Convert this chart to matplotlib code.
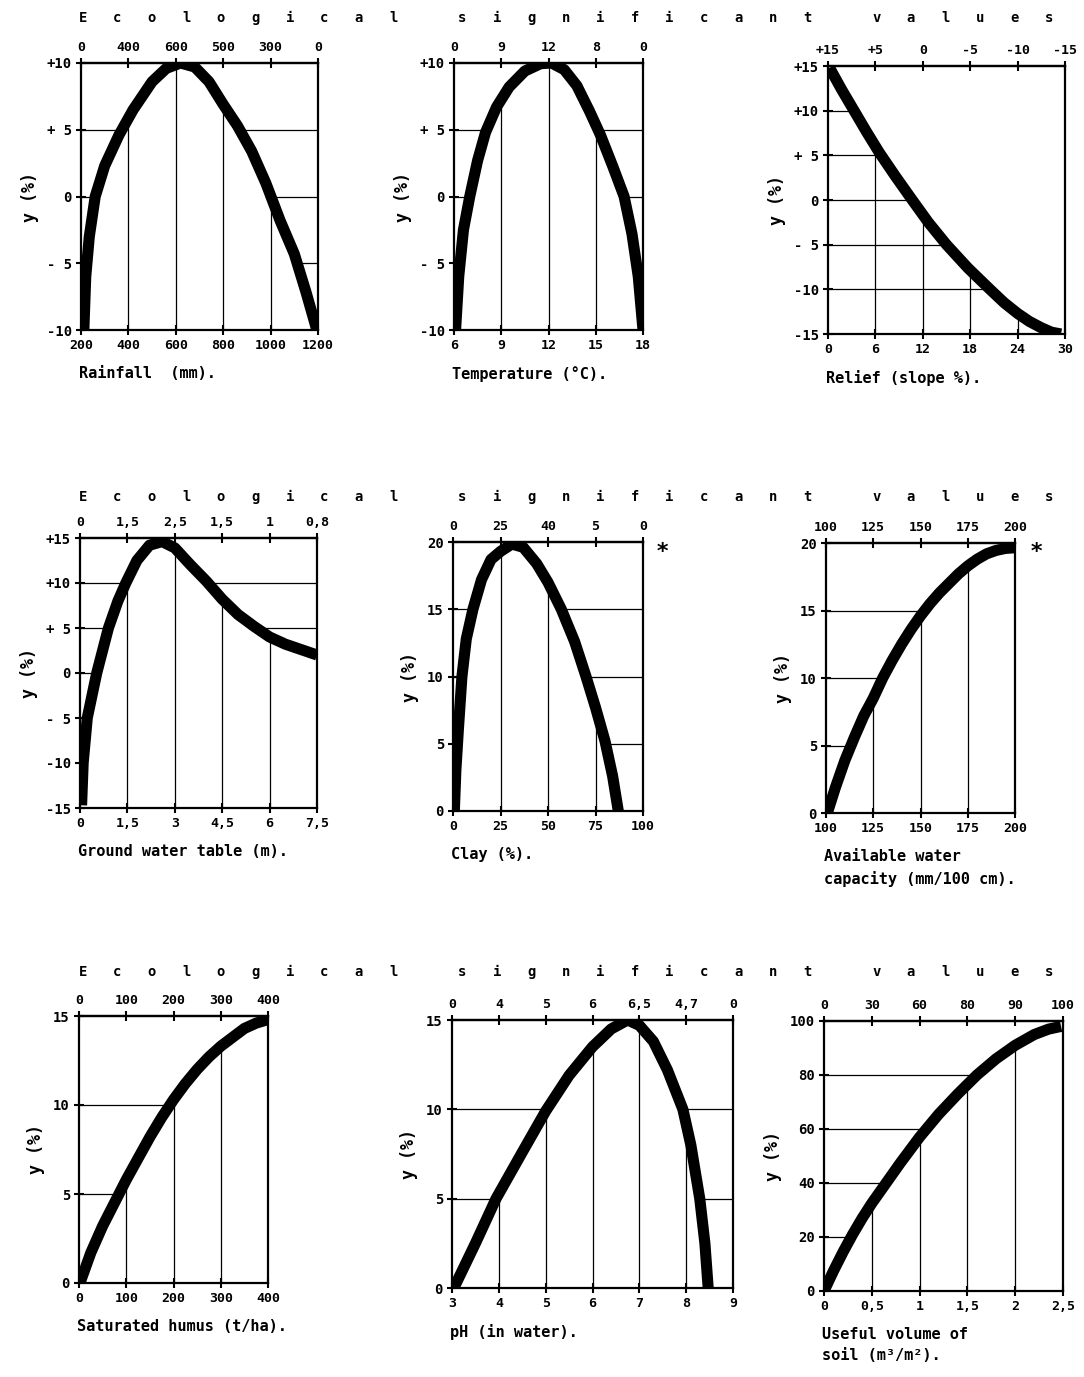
import numpy as np
import matplotlib.pyplot as plt
from matplotlib.transforms import offset_copy

# curves (x, y in %)
rain_x = [212, 220, 235, 260, 300, 360, 420, 500, 560, 620, 680, 740, 800, 860, 920, 980, 1040, 1100, 1150, 1195]
rain_y = [-10, -6, -3, 0, 2.3, 4.6, 6.5, 8.6, 9.6, 10, 9.7, 8.6, 6.9, 5.3, 3.4, 1.0, -1.8, -4.3, -7.2, -10]

temp_x = [6.1, 6.3, 6.6, 7.0, 7.5, 8.0, 8.7, 9.5, 10.5, 11.5, 12.2, 13.0, 13.8, 14.6, 15.3, 16.1, 16.8, 17.3, 17.7, 18.0]
temp_y = [-10, -6, -2.5, 0, 2.7, 4.8, 6.7, 8.2, 9.4, 9.95, 10, 9.5, 8.3, 6.4, 4.6, 2.2, 0, -2.8, -6, -10]

relief_x = [0.2, 1.7, 3.3, 4.9, 6.5, 8.5, 10.5, 12.7, 15, 17.7, 20.5, 22.3, 24, 25.5, 27, 28.3, 29.5]
relief_y = [14.8, 12.4, 10, 7.6, 5.3, 2.7, 0.2, -2.5, -5, -7.6, -10, -11.5, -12.7, -13.6, -14.3, -14.8, -15]

gwt_x = [0.05, 0.1, 0.23, 0.53, 0.9, 1.2, 1.45, 1.8, 2.2, 2.6, 3.0, 3.5, 4.0, 4.5, 5.0, 5.5, 6.0, 6.5, 7.0, 7.5]
gwt_y = [-14.7, -10, -5, 0, 5, 8, 10, 12.5, 14.2, 14.6, 13.9, 12, 10.2, 8.2, 6.5, 5.2, 4.0, 3.2, 2.6, 2.0]

clay_x = [0.7, 1.5, 2.8, 4.7, 7, 10.5, 15, 20, 25, 31, 37, 44, 50, 57, 64, 70, 75, 80, 84, 87]
clay_y = [0, 3, 6, 10, 12.8, 15, 17.2, 18.7, 19.3, 19.85, 19.6, 18.4, 17, 15, 12.6, 10, 7.7, 5.2, 2.6, 0]

awc_x = [100.7, 105, 110, 115, 120, 125, 130, 135, 140, 145, 150, 155, 160, 165, 170, 175, 180, 185, 190, 195, 200]
awc_y = [0, 1.9, 3.9, 5.6, 7.2, 8.5, 10, 11.3, 12.5, 13.6, 14.6, 15.5, 16.3, 17.0, 17.7, 18.3, 18.8, 19.2, 19.45, 19.6, 19.65]

humus_x = [2, 25, 50, 75, 100, 125, 150, 175, 200, 225, 250, 275, 300, 325, 350, 375, 400]
humus_y = [0, 1.7, 3.2, 4.5, 5.8, 7.0, 8.2, 9.3, 10.3, 11.2, 12.0, 12.7, 13.3, 13.8, 14.3, 14.6, 14.8]

ph_x = [3.04, 3.5, 3.94, 4.5, 5.0, 5.5, 6.0, 6.4, 6.75, 7.0, 7.3, 7.6, 7.93, 8.1, 8.29, 8.4, 8.47]
ph_y = [0, 2.5, 5, 7.6, 9.9, 11.9, 13.5, 14.5, 15, 14.7, 13.8, 12.2, 10, 8, 5, 2.5, 0]

soil_x = [0.0, 0.1, 0.2, 0.3, 0.4, 0.5, 0.63, 0.8, 1.0, 1.2, 1.4, 1.6, 1.8, 2.0, 2.2, 2.35, 2.48]
soil_y = [0, 7.5, 14.5, 21, 27, 32.5, 39, 47.5, 57, 65.5, 73, 80, 86, 91, 95, 97, 98]

# tick labels
rain_ticks = [200, 400, 600, 800, 1000, 1200]
rain_top = ['0', '400', '600', '500', '300', '0']
temp_ticks = [6, 9, 12, 15, 18]
temp_top = ['0', '9', '12', '8', '0']
relief_ticks = [0, 6, 12, 18, 24, 30]
relief_top = ['+15', '+5', '0', '-5', '-10', '-15']
gwt_ticks = [0, 1.5, 3, 4.5, 6, 7.5]
gwt_labels = ['0', '1,5', '3', '4,5', '6', '7,5']
gwt_top = ['0', '1,5', '2,5', '1,5', '1', '0,8']
clay_ticks = [0, 25, 50, 75, 100]
clay_top = ['0', '25', '40', '5', '0']
awc_ticks = [100, 125, 150, 175, 200]
humus_ticks = [0, 100, 200, 300, 400]
ph_ticks = [3, 4, 5, 6, 7, 8, 9]
ph_top = ['0', '4', '5', '6', '6,5', '4,7', '0']
soil_ticks = [0, 0.5, 1, 1.5, 2, 2.5]
soil_labels = ['0', '0,5', '1', '1,5', '2', '2,5']
soil_top = ['0', '30', '60', '80', '90', '100']

y10 = [-10, -5, 0, 5, 10]
y10_labels = ['-10', '- 5', '0', '+ 5', '+10']
y15 = [-15, -10, -5, 0, 5, 10, 15]
y15_labels = ['-15', '-10', '- 5', '0', '+ 5', '+10', '+15']

FONT = dict(family='DejaVu Sans Mono', weight='bold')
W, H = 1084, 1377
fig = plt.figure(figsize=(W / 100, H / 100), dpi=100)
fig.patch.set_facecolor('white')


def crossings(x, y, level):
    out = []
    for i in range(len(x) - 1):
        a, b = y[i] - level, y[i + 1] - level
        if a == 0:
            out.append(x[i])
        elif a * b < 0:
            out.append(x[i] + (x[i + 1] - x[i]) * a / (a - b))
    return out


def panel(box, x, y, xticks, yticks, xlabel, xlabels=None, top=None, ylabels=None):
    l, t, r, b = box
    ax = fig.add_axes([l / W, 1 - b / H, (r - l) / W, (b - t) / H])
    x0, x1 = xticks[0], xticks[-1]
    y0, y1 = yticks[0], yticks[-1]
    ax.set_xlim(x0, x1)
    ax.set_ylim(y0, y1)

    # partial grid: verticals up to the curve, horizontals from the sides to the curve
    for xt in xticks[1:-1]:
        if x[0] <= xt <= x[-1]:
            ax.plot([xt, xt], [y0, np.interp(xt, x, y)], color='k', lw=0.9, zorder=1)
    for yt in yticks[1:-1]:
        c = crossings(x, y, yt)
        if not c:
            continue
        ax.plot([x0, c[0]], [yt, yt], color='k', lw=0.9, zorder=1)
        if len(c) > 1:
            ax.plot([c[-1], x1], [yt, yt], color='k', lw=0.9, zorder=1)

    ax.plot(x, y, color='k', lw=8, solid_capstyle='butt', solid_joinstyle='round', zorder=3)

    for s in ax.spines.values():
        s.set_linewidth(1.6)
    ax.set_xticks(xticks)
    ax.set_xticklabels(xlabels if xlabels else [str(v) for v in xticks], fontsize=9.5, **FONT)
    ax.set_yticks(yticks)
    ax.set_yticklabels(ylabels if ylabels else [str(v) for v in yticks], fontsize=10, **FONT)
    ax.tick_params(direction='inout', length=7, width=1.5, pad=3)

    sec = ax.secondary_xaxis('top')
    sec.set_xticks(xticks)
    sec.set_xticklabels(top if top else (xlabels if xlabels else [str(v) for v in xticks]),
                        fontsize=9.5, **FONT)
    sec.tick_params(direction='inout', length=7, width=1.5, pad=3)
    sec.spines['top'].set_linewidth(1.6)

    ax.set_ylabel('y (%)', fontsize=12, labelpad=6, **FONT)
    tr = offset_copy(ax.transAxes, fig=fig, x=-2, y=-36, units='dots')
    ax.text(0, 0, xlabel, transform=tr, ha='left', va='top', fontsize=11,
            linespacing=1.5, **FONT)
    return ax


panel((81, 63, 318, 330), rain_x, rain_y, rain_ticks, y10, 'Rainfall  (mm).',
      top=rain_top, ylabels=y10_labels)
panel((454, 63, 643, 330), temp_x, temp_y, temp_ticks, y10, 'Temperature (°C).',
      top=temp_top, ylabels=y10_labels)
panel((828, 66, 1065, 334), relief_x, relief_y, relief_ticks, y15, 'Relief (slope %).',
      top=relief_top, ylabels=y15_labels)

panel((80, 538, 317, 808), gwt_x, gwt_y, gwt_ticks, y15, 'Ground water table (m).',
      xlabels=gwt_labels, top=gwt_top, ylabels=y15_labels)
panel((453, 542, 643, 811), clay_x, clay_y, clay_ticks, [0, 5, 10, 15, 20], 'Clay (%).',
      top=clay_top)
panel((826, 543, 1015, 813), awc_x, awc_y, awc_ticks, [0, 5, 10, 15, 20],
      'Available water\ncapacity (mm/100 cm).')

panel((79, 1016, 268, 1283), humus_x, humus_y, humus_ticks, [0, 5, 10, 15],
      'Saturated humus (t/ha).')
panel((452, 1020, 733, 1288), ph_x, ph_y, ph_ticks, [0, 5, 10, 15], 'pH (in water).',
      top=ph_top)
panel((824, 1021, 1063, 1291), soil_x, soil_y, soil_ticks, [0, 20, 40, 60, 80, 100],
      'Useful volume of\nsoil (m³/m²).', xlabels=soil_labels, top=soil_top)

fig.text(662 / W, 1 - 552 / H, '*', ha='center', va='center', fontsize=16, **FONT)
fig.text(1036 / W, 1 - 552 / H, '*', ha='center', va='center', fontsize=16, **FONT)

# spaced header over each row (one empty slot between words)
header = 'Ecological significant values'
for row_y in (18, 497, 972):
    for i, ch in enumerate(header):
        if ch != ' ':
            fig.text((83 + i * 34.5) / W, 1 - row_y / H, ch, ha='center', va='center',
                     fontsize=10, **FONT)

fig.savefig('out.png', dpi=100, facecolor='white')
